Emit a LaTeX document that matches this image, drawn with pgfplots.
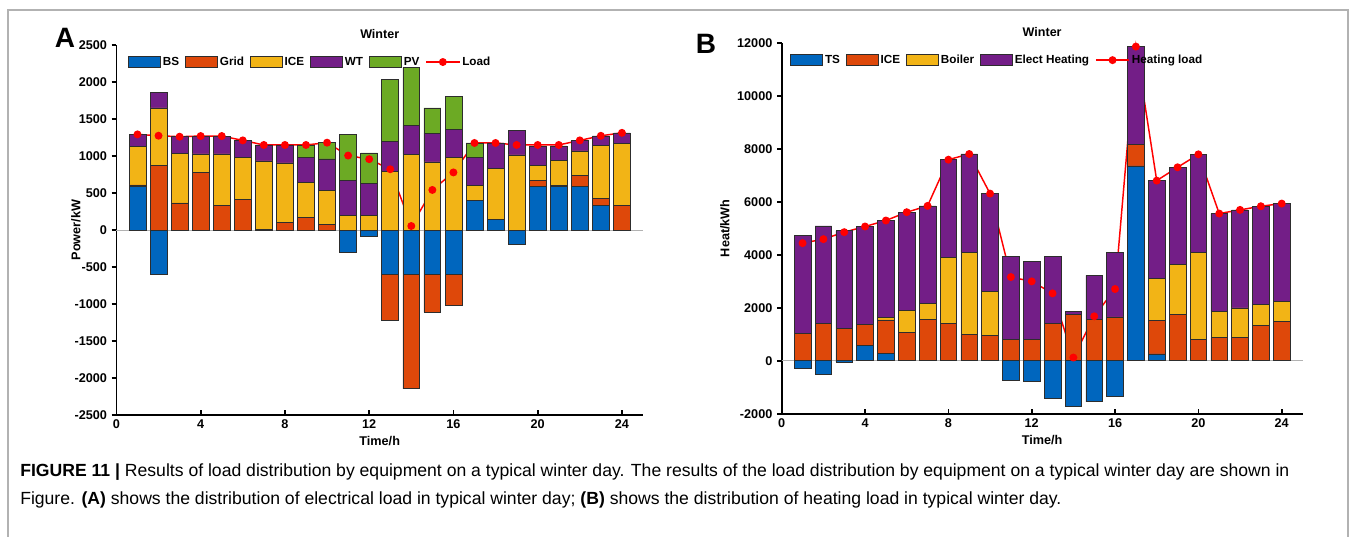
\documentclass[border=0pt]{standalone}
\usepackage{fontspec}
\setmainfont{Liberation Sans}
\usepackage{pgfplots}
\pgfplotsset{compat=1.18}
\usepackage{pgfplotstable}

\definecolor{cBlue}{RGB}{0,102,190}
\definecolor{cOrange}{RGB}{222,72,10}
\definecolor{cYellow}{RGB}{242,180,22}
\definecolor{cPurple}{RGB}{115,30,135}
\definecolor{cGreen}{RGB}{108,170,36}
\definecolor{cRed}{RGB}{255,0,0}
\definecolor{cEdge}{RGB}{45,45,45}

% Electrical balance, winter day (kW): positive supply parts, negative parts, load
\pgfplotstableread{
h  BSp  Gridp ICE  WT  PV  BSn  Gridn Load
1  590  20    519  161 0   0    0     1292
2  0    872   777  215 0   -600 0     1274
3  0    367   666  228 0   0    0     1261
4  0    778   250  242 0   0    0     1270
5  0    335   693  242 0   0    0     1270
6  0    411   572  233 0   0    0     1211
7  0    13    921  215 0   0    0     1149
8  0    103   804  242 0   0    0     1149
9  0    170   478  331 170 0    0     1149
10 0    76    460  425 219 0    0     1180
11 0    0     201  465 630 -300 0     1006
12 0    0     201  429 412 -90  0     957
13 0    0     791  411 832 -600 -616  821
14 0    0     1024 389 786 -600 -1546 54
15 0    0     921  389 339 -600 -509  541
16 0    0     979  384 438 -600 -419  778
17 402  0     201  376 197 0    0     1176
18 143  0     684  349 0   0    0     1176
19 0    0     1015 330 0   -200 0     1149
20 590  76    206  263 0   0    0     1149
21 590  10    344  192 0   0    0     1149
22 590  143   335  143 0   0    0     1211
23 330  92    724  125 0   0    0     1273
24 0    331   844  138 0   0    0     1313
}\elec

% Heat balance, winter day (kWh)
\pgfplotstableread{
h  TSp  ICE  Boiler EH   TSn   Load
1  0    1023 0      3700 -295  4436
2  0    1399 0      3690 -521  4587
3  0    1224 0      3677 -50   4851
4  571  803  0      3690 0     5064
5  270  1267 88     3665 0     5290
6  0    1073 828    3703 0     5604
7  0    1562 590    3690 0     5842
8  0    1399 2485   3702 0     7586
9  0    985  3113   3702 0     7800
10 0    960  1644   3702 0     6306
11 0    797  0      3137 -759  3156
12 0    797  0      2962 -797  2993
13 0    1412 0      2535 -1424 2541
14 0    1751 0      113  -1726 119
15 0    1562 0      1657 -1550 1675
16 0    1650 0      2422 -1337 2705
17 7348 803  0      3702 0     11853
18 257  1268 1569   3702 0     6796
19 0    1738 1883   3677 0     7298
20 0    797  3275   3715 0     7787
21 0    872  979    3702 0     5553
22 0    872  1117   3702 0     5691
23 0    1324 803    3702 0     5829
24 0    1475 765    3690 0     5930
}\heat

\pgfplotsset{
  panel/.style={
    scale only axis, clip=false,
    axis x line*=bottom, axis y line*=left,
    xmin=0, xmax=25, xtick={0,4,...,24},
    scaled y ticks=false,
    tick label style={font=\bfseries\fontsize{9.5}{11}\selectfont},
    /pgf/number format/assume math mode=true,
    /pgf/number format/set thousands separator={},
    axis line style={line width=1.3pt, black},
    major tick style={line width=1.3pt, black},
    major tick length=3.5pt,
    xtick align=inside, ytick align=outside,
    label style={font=\bfseries\fontsize{9.5}{11}\selectfont},
    xlabel style={at={(axis description cs:0.5,-0.07)}, anchor=center},
    ybar stacked, bar width=0.8,
  },
  bars/.style={fill=#1, draw=cEdge, line width=0.5pt,
    legend image code/.code={\draw[##1] (0pt,-4pt) rectangle (24pt,4pt);}},
  loadline/.style={sharp plot, stack plots=false, draw=cRed, line width=1.1pt,
    mark=*, mark size=2.4pt, mark options={fill=cRed, draw=cRed, solid},
    legend image code/.code={\draw[mark repeat=2, mark phase=2, ##1]
      plot coordinates {(0pt,0pt) (12.5pt,0pt) (25pt,0pt)};}},
  toplegend/.style={legend columns=-1,
    legend style={draw=none, fill=none, at={(axis description cs:#1)}, anchor=west,
      font=\bfseries\fontsize{8.8}{10}\selectfont, inner sep=0pt,
      nodes={inner sep=1.5pt},
      /tikz/every even column/.append style={column sep=3pt}}},
}

\begin{document}
\begin{tikzpicture}
\useasboundingbox (0,0) rectangle (1017pt,402pt);
% outer frame
\draw[gray!60, line width=0.8pt] (6pt,-10pt) -- (6pt,394.5pt) -- (1011pt,394.5pt) -- (1011pt,-10pt);

% ---------- panel A: electrical load ----------
\begin{axis}[panel, at={(87.3pt,90.75pt)}, anchor=south west,
  width=394.95pt, height=277.5pt,
  ymin=-2500, ymax=2500, ytick={-2500,-2000,...,2500},
  xlabel={Time/h}, ylabel={Power/kW},
  ylabel style={at={(axis description cs:-0.077,0.5)}, anchor=center}]
\draw[gray!60, line width=0.6pt] (axis cs:0,0) -- (axis cs:25,0);
\node[font=\bfseries\fontsize{9.4}{11}\selectfont] at (axis description cs:0.5,1.03) {Winter};
\addplot[bars=cBlue] table[x=h, y=BSn] {\elec};
\addplot[bars=cOrange] table[x=h, y=Gridn] {\elec};
\end{axis}
\begin{axis}[panel, hide axis, at={(87.3pt,90.75pt)}, anchor=south west,
  width=394.95pt, height=277.5pt, ymin=-2500, ymax=2500,
  toplegend={0.022,0.954}]
\addplot[bars=cBlue] table[x=h, y=BSp] {\elec};
\addplot[bars=cOrange] table[x=h, y=Gridp] {\elec};
\addplot[bars=cYellow] table[x=h, y=ICE] {\elec};
\addplot[bars=cPurple] table[x=h, y=WT] {\elec};
\addplot[bars=cGreen] table[x=h, y=PV] {\elec};
\addplot[loadline] table[x=h, y=Load] {\elec};
\legend{BS, Grid, ICE, WT, PV, Load}
\end{axis}

% ---------- panel B: heating load ----------
\begin{axis}[panel, at={(586.3pt,91.725pt)}, anchor=south west,
  width=390.6pt, height=278.25pt,
  ymin=-2000, ymax=12000, ytick={-2000,0,...,12000},
  xlabel={Time/h}, ylabel={Heat/kWh},
  ylabel style={at={(axis description cs:-0.109,0.5)}, anchor=center}]
\draw[gray!60, line width=0.6pt] (axis cs:0,0) -- (axis cs:25,0);
\node[font=\bfseries\fontsize{9.4}{11}\selectfont] at (axis description cs:0.5,1.03) {Winter};
\addplot[bars=cBlue] table[x=h, y=TSn] {\heat};
\end{axis}
\begin{axis}[panel, hide axis, at={(586.3pt,91.725pt)}, anchor=south west,
  width=390.6pt, height=278.25pt, ymin=-2000, ymax=12000,
  toplegend={0.016,0.953}]
\addplot[bars=cBlue] table[x=h, y=TSp] {\heat};
\addplot[bars=cOrange] table[x=h, y=ICE] {\heat};
\addplot[bars=cYellow] table[x=h, y=Boiler] {\heat};
\addplot[bars=cPurple] table[x=h, y=EH] {\heat};
\addplot[loadline] table[x=h, y=Load] {\heat};
\legend{TS, ICE, Boiler, Elect Heating, Heating load}
\end{axis}

% panel letters
\node[font=\bfseries\fontsize{21}{24}\selectfont] at (48.75pt,373.5pt) {A};
\node[font=\bfseries\fontsize{21}{24}\selectfont] at (529.5pt,369pt) {B};

% caption
\node[anchor=west, inner sep=0pt, font=\fontsize{13.2}{15}\selectfont] at (15pt,48pt)
  {\textbf{FIGURE 11 |} Results of load distribution by equipment on a typical winter day. The results of the load distribution by equipment on a typical winter day are shown in};
\node[anchor=west, inner sep=0pt, font=\fontsize{13.2}{15}\selectfont] at (15pt,27pt)
  {Figure. \textbf{(A)} shows the distribution of electrical load in typical winter day; \textbf{(B)} shows the distribution of heating load in typical winter day.};
\end{tikzpicture}
\end{document}
